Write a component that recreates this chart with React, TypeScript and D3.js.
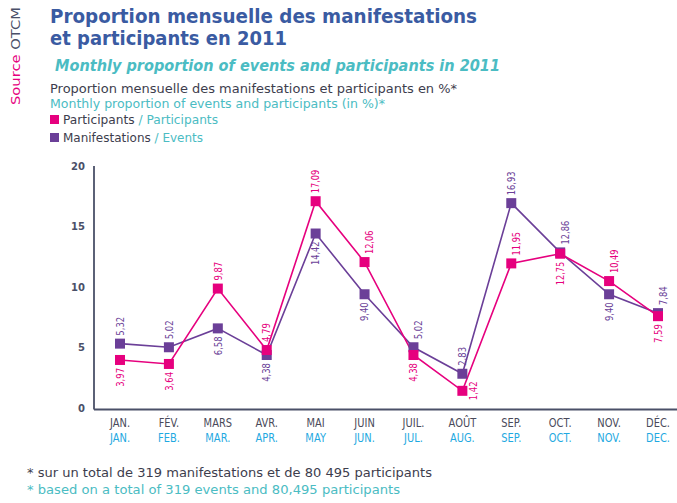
import React from "react";
import * as d3 from "d3";

const monthsFr = ["JAN.", "FÉV.", "MARS", "AVR.", "MAI", "JUIN", "JUIL.", "AOÛT", "SEP.", "OCT.", "NOV.", "DÉC."];
const monthsEn = ["JAN.", "FEB.", "MAR.", "APR.", "MAY", "JUN.", "JUL.", "AUG.", "SEP.", "OCT.", "NOV.", "DEC."];
const participants = [3.97, 3.64, 9.87, 4.79, 17.09, 12.06, 4.38, 1.42, 11.95, 12.75, 10.49, 7.59];
const events = [5.32, 5.02, 6.58, 4.38, 14.42, 9.4, 5.02, 2.83, 16.93, 12.86, 9.4, 7.84];
// label placement: "a" above, "b" below, "ar" above-right, "r" right
const participantsPlace = ["b", "b", "a", "a", "a", "ar", "b", "r", "ar", "b", "ar", "b"];
const eventsPlace = ["a", "a", "b", "b", "b", "b", "ar", "a", "a", "ar", "b", "ar"];
const yTicks = [0, 5, 10, 15, 20];

const PINK = "#e6007e";
const PURPLE = "#6b3f98";
const TEAL = "#4bbcc3";
const CYAN = "#1fa9e1";
const DARK = "#3d3d4d";
const AXIS = "#4a5068";

const fmt = (v: number) => v.toFixed(2).replace(".", ",");

export default function App() {
  const x = d3.scalePoint<string>().domain(monthsFr).range([120, 658]);
  const y = d3.scaleLinear().domain([0, 20]).range([408, 166]);
  const line = d3
    .line<number>()
    .x((_, i) => x(monthsFr[i]) as number)
    .y((d) => y(d));

  const font = "'DejaVu Sans', sans-serif";

  const series = [
    { vals: events, place: eventsPlace, color: PURPLE },
    { vals: participants, place: participantsPlace, color: PINK },
  ];

  return (
    <svg width={677} height={503} style={{ position: "absolute", left: 0, top: 0, background: "#fff" }}>
      {/* Source */}
      <text transform="translate(20,105) rotate(-90)" fontFamily={font} fontSize={12} textLength={98} lengthAdjust="spacingAndGlyphs">
        <tspan fill={PINK}>Source </tspan>
        <tspan fill={AXIS}>OTCM</tspan>
      </text>
      {/* Titles */}
      <text x={50} y={23} fontFamily={font} fontWeight="bold" fontSize={19} fill="#3a5ba2" textLength={427} lengthAdjust="spacingAndGlyphs">
        Proportion mensuelle des manifestations
      </text>
      <text x={50} y={45} fontFamily={font} fontWeight="bold" fontSize={19} fill="#3a5ba2" textLength={237} lengthAdjust="spacingAndGlyphs">
        et participants en 2011
      </text>
      <text x={55} y={71} fontFamily={font} fontWeight="bold" fontStyle="italic" fontSize={16} fill={TEAL} textLength={445} lengthAdjust="spacingAndGlyphs">
        Monthly proportion of events and participants in 2011
      </text>
      <text x={50} y={93} fontFamily={font} fontSize={12} fill={DARK} textLength={407} lengthAdjust="spacingAndGlyphs">
        Proportion mensuelle des manifestations et participants en %*
      </text>
      <text x={50} y={108} fontFamily={font} fontSize={12} fill={TEAL} textLength={335} lengthAdjust="spacingAndGlyphs">
        Monthly proportion of events and participants (in %)*
      </text>
      <rect x={50} y={115} width={9} height={9} fill={PINK} />
      <text x={63} y={124} fontFamily={font} fontSize={12} fill={DARK} textLength={155} lengthAdjust="spacingAndGlyphs">
        Participants<tspan fill={TEAL}> / Participants</tspan>
      </text>
      <rect x={50} y={133} width={9} height={9} fill={PURPLE} />
      <text x={63} y={142} fontFamily={font} fontSize={12} fill={DARK} textLength={140} lengthAdjust="spacingAndGlyphs">
        Manifestations<tspan fill={TEAL}> / Events</tspan>
      </text>

      {/* Axes */}
      <line x1={94} x2={94} y1={166} y2={409.5} stroke={AXIS} strokeWidth={1.8} />
      <line x1={94} x2={677} y1={409.5} y2={409.5} stroke={AXIS} strokeWidth={1.8} />
      {yTicks.map((t) => (
        <text key={t} x={85} y={y(t)} dy="0.35em" textAnchor="end" fontFamily={font} fontWeight="bold" fontSize={10} fill={AXIS}>
          {t}
        </text>
      ))}
      {monthsFr.map((m, i) => (
        <g key={m} transform={`translate(${x(m)},0) scale(0.86,1)`}>
          <text x={0} y={427} textAnchor="middle" fontFamily={font} fontSize={11.5} fill="#4a4a5a">{m}</text>
          <text x={0} y={442} textAnchor="middle" fontFamily={font} fontSize={11.5} fill={CYAN}>{monthsEn[i]}</text>
        </g>
      ))}

      {/* Lines */}
      {series.map((s, si) => (
        <path key={si} d={line(s.vals) || ""} fill="none" stroke={s.color} strokeWidth={1.6} />
      ))}
      {series.map((s, si) =>
        s.vals.map((v, i) => {
          const cx = x(monthsFr[i]) as number;
          const cy = y(v);
          return <rect key={`${si}-${i}`} x={cx - 5} y={cy - 5} width={10} height={10} fill={s.color} />;
        })
      )}
      {series.map((s, si) =>
        s.vals.map((v, i) => {
          const cx = x(monthsFr[i]) as number;
          const cy = y(v);
          const p = s.place[i];
          const label = fmt(v);
          let lx = cx;
          let ly = cy;
          let anchor = "middle";
          if (p === "a" || p === "ar") {
            ly = cy - 8;
            anchor = "start";
          } else if (p === "b") {
            ly = cy + 8;
            anchor = "end";
          }
          if (p === "ar") lx = cx + 5;
          if (p === "r") lx = cx + 11;
          return (
            <text
              key={`l${si}-${i}`}
              transform={`translate(${lx},${ly}) rotate(-90)`}
              textAnchor={anchor}
              dy="0.35em"
              fontFamily={font}
              fontSize={10.5}
              fill={s.color}
              textLength={label.length * 4.7}
              lengthAdjust="spacingAndGlyphs"
            >
              {label}
            </text>
          );
        })
      )}

      {/* Footnotes */}
      <text x={27} y={477} fontFamily={font} fontSize={12} fill={DARK} textLength={405} lengthAdjust="spacingAndGlyphs">
        * sur un total de 319 manifestations et de 80 495 participants
      </text>
      <text x={27} y={494} fontFamily={font} fontSize={12} fill={TEAL} textLength={373} lengthAdjust="spacingAndGlyphs">
        * based on a total of 319 events and 80,495 participants
      </text>
    </svg>
  );
}
